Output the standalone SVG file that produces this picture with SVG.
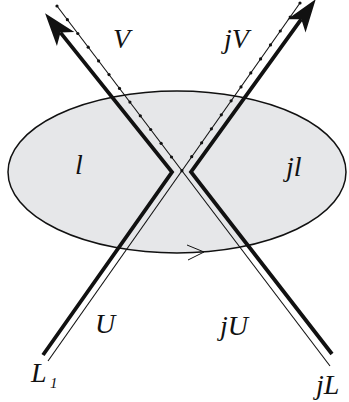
<svg xmlns="http://www.w3.org/2000/svg" width="349" height="402" viewBox="0 0 349 402">
<style>
.thick{fill:none;stroke:#111;stroke-width:3.8;stroke-linejoin:miter;stroke-miterlimit:10}
.thin{fill:none;stroke:#111;stroke-width:1.1}
.dot{fill:#111}
.lbl{font-family:"Liberation Serif",serif;font-style:italic;font-size:28px;fill:#111}
.sub{font-family:"Liberation Serif",serif;font-style:italic;font-size:15px;fill:#111}
</style>
<defs>
<marker id="ah" markerUnits="userSpaceOnUse" markerWidth="40" markerHeight="30" refX="0" refY="0" viewBox="-10 -12 34 24" orient="auto" overflow="visible">
<path d="M21,0 L-7,-9.5 L0,0 L-7,9.5 Z" fill="#111"/>
</marker>
</defs>
<g id="region">
<ellipse cx="177" cy="172" rx="169" ry="81" fill="#e6e7e9" stroke="#111" stroke-width="1.5"/>
<path d="M187,245 L204,252 L188,260" fill="none" stroke="#111" stroke-width="1"/>
</g>
<g id="connectors">
<path class="thick" d="M43,355 L172,172 L60.5,32.6" marker-end="url(#ah)"/>
<path class="thick" d="M332,354 L191,172 L301.3,19.2" marker-end="url(#ah)"/>
<line class="thin" x1="57" y1="6" x2="330" y2="366"/>
<line class="thin" x1="48" y1="361" x2="300" y2="3"/>
<g class="dot">
<circle cx="57" cy="6" r="1.6"/><circle cx="67.4" cy="19.7" r="1.6"/><circle cx="77.8" cy="33.5" r="1.6"/><circle cx="88.2" cy="47.2" r="1.6"/><circle cx="98.6" cy="60.9" r="1.6"/><circle cx="109" cy="74.6" r="1.6"/><circle cx="119.5" cy="88.4" r="1.6"/><circle cx="129.9" cy="102.1" r="1.6"/><circle cx="140.3" cy="115.8" r="1.6"/><circle cx="150.7" cy="129.5" r="1.6"/><circle cx="161.1" cy="143.3" r="1.6"/><circle cx="171.5" cy="157" r="1.6"/><circle cx="181.9" cy="170.7" r="1.6"/>
<circle cx="191.7" cy="156.7" r="1.6"/><circle cx="201.6" cy="142.8" r="1.6"/><circle cx="211.4" cy="128.8" r="1.6"/><circle cx="221.3" cy="114.8" r="1.6"/><circle cx="231.1" cy="100.8" r="1.6"/><circle cx="241" cy="86.9" r="1.6"/><circle cx="250.8" cy="72.9" r="1.6"/><circle cx="260.6" cy="58.9" r="1.6"/><circle cx="270.5" cy="44.9" r="1.6"/><circle cx="280.3" cy="31" r="1.6"/><circle cx="290.2" cy="17" r="1.6"/><circle cx="300" cy="3" r="1.6"/>
</g>
</g>
<g id="labels">
<text class="lbl" x="113" y="48">V</text>
<text class="lbl" x="224" y="48">jV</text>
<text class="lbl" x="75" y="174">l</text>
<text class="lbl" x="286" y="176">jl</text>
<text class="lbl" x="95" y="333">U</text>
<text class="lbl" x="220" y="335">jU</text>
<text class="lbl" x="31" y="382">L</text><text class="sub" x="50" y="388">1</text>
<text class="lbl" x="316" y="394">jL</text>
</g>
</svg>
